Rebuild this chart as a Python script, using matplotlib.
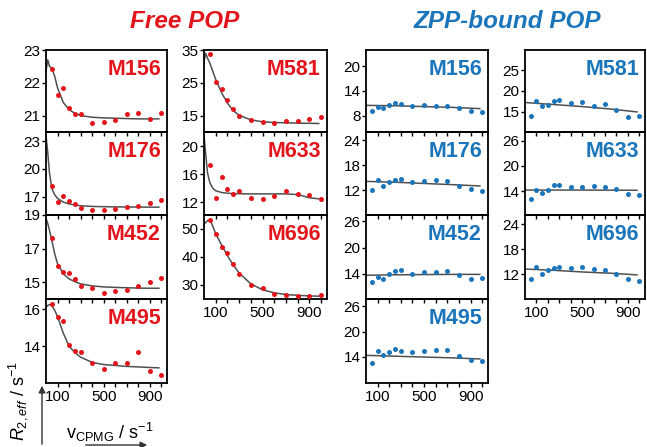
import matplotlib
matplotlib.use("Agg")
from matplotlib import pyplot as plt

plt.rcParams['font.family'] = ['Liberation Sans', 'DejaVu Sans']
plt.rcParams['mathtext.fontset'] = 'custom'
plt.rcParams['mathtext.rm'] = 'Liberation Sans'
plt.rcParams['mathtext.it'] = 'Liberation Sans:italic'

RED = '#e3151c'
BLUE = '#1b75bb'

# CPMG frequencies (s^-1)
nu_cpmg = [50, 100, 150, 200, 250, 300, 400, 500, 600, 700, 800, 900, 1000]

# Free POP, R2,eff (s^-1)
free_m156 = [22.42, 21.64, 21.85, 21.24, 21.05, 21.05, 20.77, 20.80, 20.88, 21.04, 21.09, 20.89, 21.09]
free_m176 = [18.1, 16.43, 17.1, 16.57, 16.2, 15.79, 15.54, 15.5, 15.61, 15.9, 15.93, 16.25, 16.6]
free_m452 = [17.64, 15.94, 15.62, 15.54, 15.2, 14.76, 14.66, 14.34, 14.5, 14.54, 14.78, 15.04, 15.26]
free_m495 = [16.26, 15.58, 15.35, 14.08, 13.71, 13.67, 13.11, 12.77, 13.11, 13.11, 13.66, 12.67, 12.45]
free_m581 = [33.7, 25.1, 23.2, 19.8, 17.0, 14.8, 13.7, 13.0, 12.6, 13.3, 13.5, 14.1, 14.5]
free_m633 = [17.29, 12.57, 15.57, 13.96, 13.24, 13.57, 12.57, 12.49, 12.86, 13.67, 13.2, 13.1, 12.53]
free_m696 = [53.1, 48.06, 43.7, 41.3, 37.5, 34.1, 29.9, 28.8, 26.9, 26.6, 26.2, 25.9, 26.3]

# fitted curves, free POP
fit_x = [0, 15, 30, 50, 75, 100, 150, 200, 250, 300, 400, 500, 600, 700, 800, 900, 980]
fit_m156 = [22.35, 22.7, 22.5, 22.45, 22.2, 21.85, 21.4, 21.18, 21.07, 21.0, 20.95, 20.93, 20.92, 20.91, 20.9, 20.9, 20.9]
fit_m176 = [23.6, 21.8, 19.6, 17.9, 17.2, 16.8, 16.4, 16.2, 16.08, 16.0, 15.93, 15.9, 15.88, 15.87, 15.86, 15.85, 15.85]
fit_m452 = [18.8, 18.5, 18.1, 17.5, 16.7, 16.1, 15.5, 15.2, 15.03, 14.9, 14.78, 14.72, 14.69, 14.67, 14.65, 14.64, 14.64]
fit_m495 = [16.1, 16.2, 16.25, 16.2, 15.95, 15.6, 14.7, 14.0, 13.65, 13.4, 13.12, 13.0, 12.95, 12.9, 12.87, 12.84, 12.82]
fit_m581 = [31.5, 34.0, 32.5, 31.0, 28.5, 26.0, 22.0, 18.8, 16.5, 15.1, 13.7, 13.1, 12.9, 12.8, 12.7, 12.65, 12.6]
fit_m633 = [21.5, 18.8, 16.2, 14.8, 14.0, 13.65, 13.4, 13.3, 13.25, 13.22, 13.2, 13.2, 13.2, 13.2, 13.1, 12.65, 12.5]
fit_m696 = [51.8, 52.3, 53.0, 53.3, 51.0, 48.3, 44.3, 40.5, 37.1, 34.3, 30.4, 28.3, 27.2, 26.6, 26.3, 26.1, 26.0]

# ZPP-bound POP, R2,eff (s^-1)
zpp_m156 = [9.05, 10.09, 9.95, 10.51, 11.07, 10.92, 10.26, 10.51, 10.34, 10.43, 9.78, 9.12, 8.88]
zpp_m176 = [12.0, 14.35, 13.0, 13.96, 14.35, 14.6, 13.96, 14.2, 14.35, 14.2, 13.1, 12.24, 11.84]
zpp_m452 = [12.19, 13.25, 12.8, 14.0, 14.6, 14.84, 14.07, 14.38, 14.38, 14.6, 13.84, 12.94, 13.03]
zpp_m495 = [12.44, 15.35, 14.33, 15.04, 15.75, 15.42, 15.04, 15.28, 15.59, 15.5, 14.24, 13.29, 12.98]
zpp_m581 = [14.0, 17.55, 16.31, 16.66, 17.48, 17.9, 17.06, 17.31, 16.31, 16.73, 15.32, 13.69, 13.84]
zpp_m633 = [12.17, 14.24, 13.52, 14.24, 15.35, 15.35, 14.95, 15.02, 15.26, 14.95, 14.4, 13.21, 13.05]
zpp_m696 = [10.79, 13.77, 11.93, 12.97, 13.53, 13.77, 13.53, 13.77, 13.21, 12.97, 12.07, 10.79, 10.31]

# fitted lines, ZPP-bound POP
zfit_x = [0, 250, 500, 750, 980]
zfit_m156 = [10.5, 10.4, 10.2, 10.0, 9.7]
zfit_m176 = [14.1, 13.9, 13.6, 13.3, 13.0]
zfit_m452 = [13.7, 13.8, 13.85, 13.9, 13.9]
zfit_m495 = [14.35, 14.15, 13.95, 13.75, 13.5]
zfit_m581 = [17.2, 16.7, 16.2, 15.6, 14.9]
zfit_m633 = [14.25, 14.25, 14.25, 14.22, 14.2]
zfit_m696 = [13.2, 12.9, 12.5, 12.2, 11.8]

W, H = 647, 447
fig = plt.figure(figsize=(W / 100, H / 100), dpi=100)

cols = [(46, 167), (204, 327), (366, 488), (525, 645)]
rows = [(50, 132), (132, 215), (215, 299), (299, 383)]

# (col, row, label, color, data, fit x, fit y, ylim, yticks, bottom)
panels = [
    (0, 0, 'M156', RED, free_m156, fit_x, fit_m156, (20.5, 23), [21, 22, 23], False),
    (0, 1, 'M176', RED, free_m176, fit_x, fit_m176, (15, 24), [17, 20, 23], False),
    (0, 2, 'M452', RED, free_m452, fit_x, fit_m452, (14, 19), [15, 17, 19], False),
    (0, 3, 'M495', RED, free_m495, fit_x, fit_m495, (12, 16.55), [14, 16], True),
    (1, 0, 'M581', RED, free_m581, fit_x, fit_m581, (10, 35), [15, 25, 35], False),
    (1, 1, 'M633', RED, free_m633, fit_x, fit_m633, (10.2, 22), [12, 16, 20], False),
    (1, 2, 'M696', RED, free_m696, fit_x, fit_m696, (25, 55), [30, 40, 50], True),
    (2, 0, 'M156', BLUE, zpp_m156, zfit_x, zfit_m156, (4, 24), [8, 14, 20], False),
    (2, 1, 'M176', BLUE, zpp_m176, zfit_x, zfit_m176, (6, 26), [12, 18, 24], False),
    (2, 2, 'M452', BLUE, zpp_m452, zfit_x, zfit_m452, (8.3, 27.4), [14, 20, 26], False),
    (2, 3, 'M495', BLUE, zpp_m495, zfit_x, zfit_m495, (7.8, 27.7), [14, 20, 26], True),
    (3, 0, 'M581', BLUE, zpp_m581, zfit_x, zfit_m581, (10, 30), [15, 20, 25], False),
    (3, 1, 'M633', BLUE, zpp_m633, zfit_x, zfit_m633, (8.3, 28.1), [14, 20, 26], False),
    (3, 2, 'M696', BLUE, zpp_m696, zfit_x, zfit_m696, (6, 26.2), [12, 18, 24], True),
]

for c, r, name, color, vals, fx, fy, ylim, yt, bottom in panels:
    x0, x1 = cols[c]
    y0, y1 = rows[r]
    ax = fig.add_axes([x0 / W, 1 - y1 / H, (x1 - x0) / W, (y1 - y0) / H])
    ax.patch.set_alpha(0)
    ax.plot(fx, fy, color='#505050', lw=1.1, zorder=2)
    ax.plot(nu_cpmg, vals, 'o', color=color, ms=3.6, mec='none', zorder=3, clip_on=False)
    ax.set_xlim(0, 1050)
    ax.set_ylim(*ylim)
    ax.set_yticks(yt)
    ax.set_xticks(range(100, 1001, 100))
    ax.set_xticklabels(['100', '', '', '', '500', '', '', '', '900', ''] if bottom else [])
    ax.tick_params(direction='out', length=3, width=1, labelsize=11, pad=1)
    ax.tick_params(axis='x', pad=2)
    for s in ax.spines.values():
        s.set_linewidth(1.3)
    ax.text(0.95, 0.89, name, transform=ax.transAxes, ha='right', va='top',
            color=color, fontsize=15.5, fontweight='bold')

fig.text(185 / W, 1 - 21 / H, 'Free POP', color=RED, fontsize=17.5, fontweight='bold',
         style='italic', ha='center', va='center')
fig.text(507 / W, 1 - 21 / H, 'ZPP-bound POP', color=BLUE, fontsize=17.5, fontweight='bold',
         style='italic', ha='center', va='center')

# axis labels with arrows
fig.text(18 / W, 1 - 401 / H, r'$R_{2,eff}$ / s$^{-1}$', rotation=90, fontsize=13,
         ha='center', va='center')
fig.text(66 / W, 1 - 432 / H, r'v$_\mathregular{CPMG}$ / s$^{-1}$', fontsize=13,
         ha='left', va='center')
fig.add_artist(matplotlib.patches.FancyArrowPatch(
    (42 / W, 0), (42 / W, 1 - 383 / H), transform=fig.transFigure,
    arrowstyle='-|>', mutation_scale=10, color='#333333', lw=1))
fig.add_artist(matplotlib.patches.FancyArrowPatch(
    (83 / W, 1 - 445 / H), (150 / W, 1 - 445 / H), transform=fig.transFigure,
    arrowstyle='-|>', mutation_scale=10, color='#333333', lw=1))

fig.savefig('out.png', dpi=100)
